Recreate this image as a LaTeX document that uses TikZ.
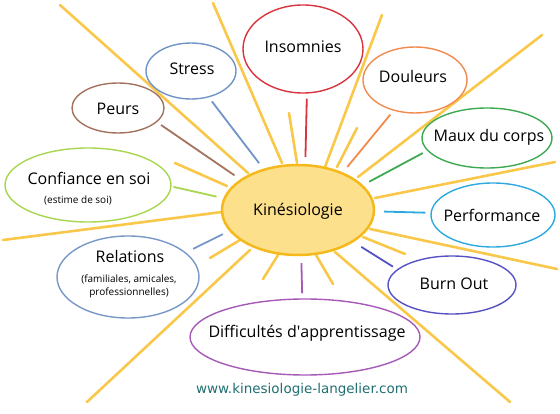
\documentclass[tikz,border=0pt]{standalone}
\usepackage{fontspec}
\setmainfont{Open Sans}
\newfontfamily\urlfont{DejaVu Sans}
\usetikzlibrary{shapes.geometric}

\definecolor{sunline}{HTML}{F6B91C}
\definecolor{sunfill}{HTML}{FCE08C}
\definecolor{rayyellow}{HTML}{F9C84A}
\definecolor{insred}{HTML}{D9333D}
\definecolor{stressblue}{HTML}{7094C8}
\definecolor{peursbrown}{HTML}{A4735E}
\definecolor{confgreen}{HTML}{A8D650}
\definecolor{relblue}{HTML}{7898C8}
\definecolor{diffpurple}{HTML}{A65AB8}
\definecolor{burnblue}{HTML}{5752C4}
\definecolor{perfblue}{HTML}{2EA9E0}
\definecolor{mauxgreen}{HTML}{3DAA52}
\definecolor{douorange}{HTML}{F28A4E}
\definecolor{urlteal}{HTML}{1F6E70}

\begin{document}
\begin{tikzpicture}[x=1pt, y=-1pt,
  bubble/.style={draw=#1, ellipse, line width=1.4pt, fill=white, inner sep=0pt},
  link/.style={draw=#1, line width=1.8pt, shorten <=7pt, shorten >=5pt},
  ray/.style={rayyellow, line width=2.6pt, line cap=round},
  lbl/.style={font=\fontsize{16}{18}\selectfont},
  small/.style={font=\fontsize{10}{12}\selectfont}]
  \useasboundingbox (0,0) rectangle (560,414);

  % Sun rays (long and short)
  \foreach \xa/\ya/\xb/\yb in {248/173/60/5, 282/163/213/3, 325/167/382/15,
      358/177/542/35, 375/198/555/162, 370/229/557/269, 335/252/510/402,
      250/250/87/402, 222/212/3/240,
      297/163/289/113, 337/167/357/128, 227/186/175/163, 240/240/210/258,
      278/255/263/279, 316/255/333/284, 363/237/405/254}
    \draw[ray] (\xa,\ya) -- (\xb,\yb);

  % Bubbles
  \node[bubble=insred, minimum width=120pt, minimum height=88pt] (ins) at (303,49) {};
  \node[bubble=stressblue, minimum width=90pt, minimum height=56pt] (stress) at (191,71) {};
  \node[bubble=peursbrown, minimum width=92pt, minimum height=50pt] (peurs) at (118,108) {};
  \node[bubble=confgreen, minimum width=166pt, minimum height=74pt] (conf) at (88,185) {};
  \node[bubble=relblue, minimum width=142pt, minimum height=82pt] (rel) at (128,277) {};
  \node[bubble=diffpurple, minimum width=230pt, minimum height=76pt] (diff) at (305,337) {};
  \node[bubble=burnblue, minimum width=128pt, minimum height=58pt] (burn) at (452,285) {};
  \node[bubble=perfblue, minimum width=124pt, minimum height=64pt] (perf) at (493,215) {};
  \node[bubble=mauxgreen, minimum width=130pt, minimum height=60pt] (maux) at (487,138) {};
  \node[bubble=douorange, minimum width=104pt, minimum height=66pt] (dou) at (415,80) {};

  % Centre
  \node[ellipse, draw=sunline, fill=sunfill, line width=2.5pt, inner sep=0pt,
    minimum width=152pt, minimum height=90pt] (kin) at (298,210) {};

  % Links from the centre
  \draw[link=insred] (kin.81) -- (ins.-85);
  \draw[link=stressblue] (kin.130) -- (stress.-56);
  \draw[link=peursbrown] (kin.152) -- (peurs.-20);
  \draw[link=confgreen, shorten >=2pt] (kin.171) -- (conf.-1);
  \draw[link=relblue, shorten >=8pt] (kin.197) -- (rel.23);
  \draw[link=diffpurple] (kin.-86) -- (diff.94);
  \draw[link=burnblue, shorten <=9pt] (kin.-30) -- (burn.164);
  \draw[link=perfblue, shorten <=9pt] (kin.-1) -- (perf.178);
  \draw[link=mauxgreen] (kin.21) -- (maux.192);
  \draw[link=douorange] (kin.40) -- (dou.-125);

  % Labels
  \node[lbl] (kin-t) at (298,211) {Kinésiologie};
  \node[lbl] (ins-t) at (303,47) {Insomnies};
  \node[lbl] (stress-t) at (192,69) {Stress};
  \node[lbl] (peurs-t) at (118,109) {Peurs};
  \node[lbl] (conf-t) at (89,178) {Confiance en soi};
  \node[small] (conf-s) at (78,200) {(estime de soi)};
  \node[lbl] (rel-t) at (130,257) {Relations};
  \node[small] (rel-s) at (129,287) {\begin{tabular}{@{}c@{}}(familiales, amicales,\\[1pt] professionnelles)\end{tabular}};
  \node[lbl] (diff-t) at (307,333) {Difficultés d\textquotesingle apprentissage};
  \node[lbl] (burn-t) at (454,284) {Burn Out};
  \node[lbl] (perf-t) at (492,215) {Performance};
  \node[lbl] (maux-t) at (489,137) {Maux du corps};
  \node[lbl] (dou-t) at (413,77) {Douleurs};

  % Web address
  \node[text=urlteal, font=\urlfont\fontsize{13.5}{16}\selectfont] (url) at (302,390)
    {www.kinesiologie-langelier.com};
\end{tikzpicture}
\end{document}
